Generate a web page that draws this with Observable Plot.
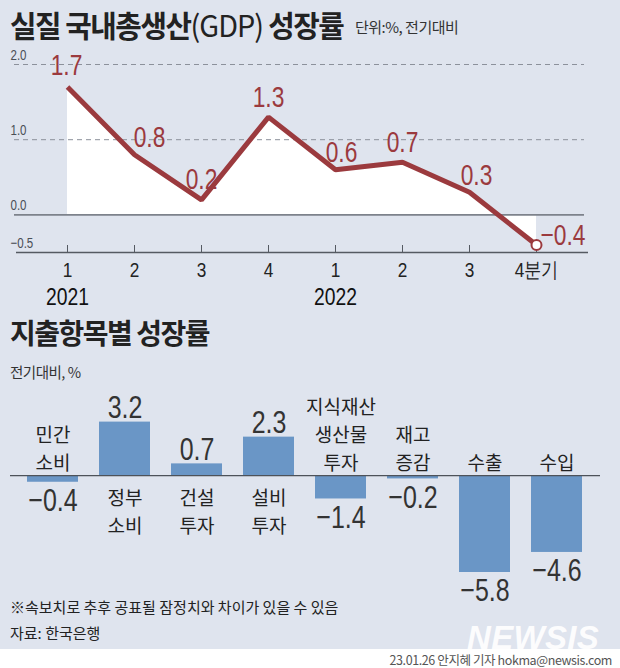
<!DOCTYPE html>
<html><head><meta charset="utf-8">
<script src="https://cdn.jsdelivr.net/npm/d3@7"></script>
<script src="https://cdn.jsdelivr.net/npm/@observablehq/plot@0.6"></script>
<style>
body{margin:0;}
#page{position:relative;width:620px;height:668px;background:#dfe4ee;overflow:hidden;font-family:"Noto Sans CJK KR",sans-serif;color:#222;}
.abs{position:absolute;white-space:nowrap;}
#t1{left:10px;top:2px;font-size:30px;font-weight:700;letter-spacing:-1.5px;color:#222;transform:scaleX(0.96);transform-origin:left top;}
#t1 .light{font-weight:400;letter-spacing:-1px;}
#s1{left:355px;top:16px;font-size:15px;color:#333;letter-spacing:-0.5px;}
#t2{left:10px;top:312px;font-size:28px;font-weight:700;letter-spacing:-1.5px;color:#222;}
#s2{left:10px;top:361px;font-size:14.5px;color:#333;letter-spacing:-0.5px;}
#c1{left:10px;top:596px;font-size:15px;color:#222;letter-spacing:0;}
#c2{left:10px;top:622px;font-size:15px;color:#222;letter-spacing:0;}
#strip{left:0;top:649px;width:620px;height:19px;background:#fff;}
#credit{right:8px;top:653px;font-size:12.5px;line-height:14px;color:#555;letter-spacing:-0.4px;}
#wm{left:467px;top:627px;line-height:22px;font-family:"Liberation Sans",Arial,sans-serif;font-size:33px;font-weight:700;font-style:italic;color:rgba(255,255,255,0.92);letter-spacing:0.3px;}
#p1{left:0;top:50px;}
#p2{left:0;top:380px;}
svg{overflow:visible;}
</style></head><body>
<div id="page">
  <div class="abs" id="t1">실질 국내총생산<span class="light">(GDP)</span> 성장률</div>
  <div class="abs" id="s1">단위:%, 전기대비</div>
  <div class="abs" id="p1"></div>
  <div class="abs" id="t2">지출항목별 성장률</div>
  <div class="abs" id="s2">전기대비, %</div>
  <div class="abs" id="p2"></div>
  <div class="abs" id="c1">※속보치로 추후 공표될 잠정치와 차이가 있을 수 있음</div>
  <div class="abs" id="c2">자료: 한국은행</div>
  <div class="abs" id="strip"></div>
  <div class="abs" id="wm">NEWSIS</div>
  <div class="abs" id="credit">23.01.26 안지혜 기자 hokma@newsis.com</div>
</div>
<script>
// ---- data ----
const quarters = ["2021 Q1","2021 Q2","2021 Q3","2021 Q4","2022 Q1","2022 Q2","2022 Q3","2022 Q4"];
const quarterLabels = ["1","2","3","4","1","2","3","4분기"];
const gdpGrowth = [1.7, 0.8, 0.2, 1.3, 0.6, 0.7, 0.3, -0.4];
const years = ["2021", "2022"];
const yearStartQuarter = ["2021 Q1", "2022 Q1"];
const yTicks = [2.0, 1.0, 0.0, -0.5];

const categories = ["민간\n소비","정부\n소비","건설\n투자","설비\n투자","지식재산\n생산물\n투자","재고\n증감","수출","수입"];
const categoryGrowth = [-0.4, 3.2, 0.7, 2.3, -1.4, -0.2, -5.8, -4.6];

// ---- styles ----
const NUM = '"Liberation Sans",Arial,sans-serif';
const KR = '"Noto Sans CJK KR",sans-serif';
const RED = "#9b3a3e";
const BLUE = "#6a96c6";
const fmt = v => (v < 0 ? "\u2212" : "") + Math.abs(v).toFixed(1);
// horizontal squeeze per font size, to imitate the condensed typeface
const squeeze = {15: 0.77, 21: 0.82, 23: 0.84, 30: 0.76, 32: 0.78};
function condense(svg) {
  svg.querySelectorAll("g[font-size]").forEach(g => {
    const s = squeeze[+g.getAttribute("font-size")];
    if (!s) return;
    g.querySelectorAll("text").forEach(t => {
      const tr = t.getAttribute("transform") || "";
      t.setAttribute("transform", tr + ` scale(${s},1)`);
    });
  });
}

// ---- line chart ----
const lineData = quarters.map((q, i) => ({q, label: quarterLabels[i], v: gdpGrowth[i]}));
const yearData = years.map((y, i) => ({y, q: yearStartQuarter[i]}));
const last = quarters[quarters.length - 1];
const offset = {"2021 Q1": [-1, -22], "2021 Q2": [15, -17], "2022 Q1": [6, -17], "2022 Q3": [7, -17]};

const p1 = Plot.plot({
  width: 620, height: 260,
  marginLeft: 14, marginRight: 36, marginTop: 14, marginBottom: 58,
  x: {type: "point", domain: quarters, range: [66, 537], padding: 0, axis: null},
  y: {domain: [-0.5, 2.0], axis: null},
  style: {background: "transparent", overflow: "visible"},
  marks: [
    Plot.areaY(lineData, {x: "q", y1: 0, y2: "v", fill: "white", curve: "linear"}),
    Plot.ruleY([2, 1], {stroke: "#8c919b", strokeDasharray: "5,4", strokeWidth: 1}),
    Plot.ruleY([0], {stroke: "#7d828b", strokeWidth: 1.6}),
    Plot.ruleY([-0.5], {stroke: "#555a62", strokeWidth: 1.6, insetRight: -4, insetLeft: 2}),
    Plot.ruleX(lineData, {x: "q", y1: -0.5, y2: -0.5, insetTop: -7, stroke: "#555a62", strokeWidth: 1}),
    Plot.text(yTicks, {y: d => d, text: fmt, frameAnchor: "left", textAnchor: "start", dx: -4, dy: -5,
      lineAnchor: "bottom", fontFamily: NUM, fontSize: 15, fill: "#4a4e55"}),
    Plot.line(lineData, {x: "q", y: "v", stroke: RED, strokeWidth: 5, strokeLinejoin: "miter", strokeLinecap: "butt"}),
    Plot.dot(lineData.filter(d => d.q === last), {x: "q", y: "v", r: 5, fill: "white", stroke: RED, strokeWidth: 2}),
    ...lineData.filter(d => d.q !== last).map(d => {
      const [dx, dy] = offset[d.q] || [0, -20];
      return Plot.text([d], {x: "q", y: "v", text: d => fmt(d.v), dx, dy, lineAnchor: "middle",
        fontFamily: NUM, fontSize: 30, fill: RED});
    }),
    Plot.text(lineData.filter(d => d.q === last), {x: "q", y: "v", text: d => fmt(d.v), textAnchor: "start",
      dx: 4, dy: -10, lineAnchor: "middle", fontFamily: NUM, fontSize: 30, fill: RED}),
    Plot.text(lineData, {x: "q", text: "label", frameAnchor: "bottom", dy: 18, lineAnchor: "middle",
      fontFamily: NUM, fontSize: 21, fill: "#222"}),
    Plot.text(yearData, {x: "q", text: "y", frameAnchor: "bottom", dy: 45, lineAnchor: "middle",
      fontFamily: NUM, fontSize: 23, fill: "#111"})
  ]
});
condense(p1);
document.getElementById("p1").appendChild(p1);

// ---- bar chart ----
const barData = categories.map((c, i) => ({c, v: categoryGrowth[i]}));
const pos = barData.filter(d => d.v >= 0), neg = barData.filter(d => d.v < 0);
const p2 = Plot.plot({
  width: 620, height: 240,
  marginLeft: 14, marginRight: 24, marginTop: 41.6, marginBottom: 48,
  x: {domain: categories, paddingInner: 0.286, paddingOuter: 0.143, axis: null},
  y: {domain: [-5.8, 3.2], axis: null},
  style: {background: "transparent", overflow: "visible"},
  marks: [
    Plot.barY(barData, {x: "c", y: "v", fill: BLUE}),
    Plot.ruleY([0], {stroke: "#4d5259", strokeWidth: 1.4, insetLeft: -4, insetRight: -4}),
    Plot.text(pos, {x: "c", y: "v", text: d => fmt(d.v), lineAnchor: "bottom", dy: -4,
      fontFamily: NUM, fontSize: 32, fill: "#333"}),
    Plot.text(neg, {x: "c", y: "v", text: d => fmt(d.v), lineAnchor: "top", dy: 6,
      fontFamily: NUM, fontSize: 32, fill: "#333"}),
    Plot.text(pos, {x: "c", y: 0, text: "c", lineAnchor: "top", dy: 10, lineHeight: 1.47,
      fontFamily: KR, fontSize: 19, fill: "#222"}),
    Plot.text(neg, {x: "c", y: 0, text: "c", lineAnchor: "bottom", dy: -6, lineHeight: 1.47,
      fontFamily: KR, fontSize: 19, fill: "#222"})
  ]
});
condense(p2);
document.getElementById("p2").appendChild(p2);
</script>
</body></html>
